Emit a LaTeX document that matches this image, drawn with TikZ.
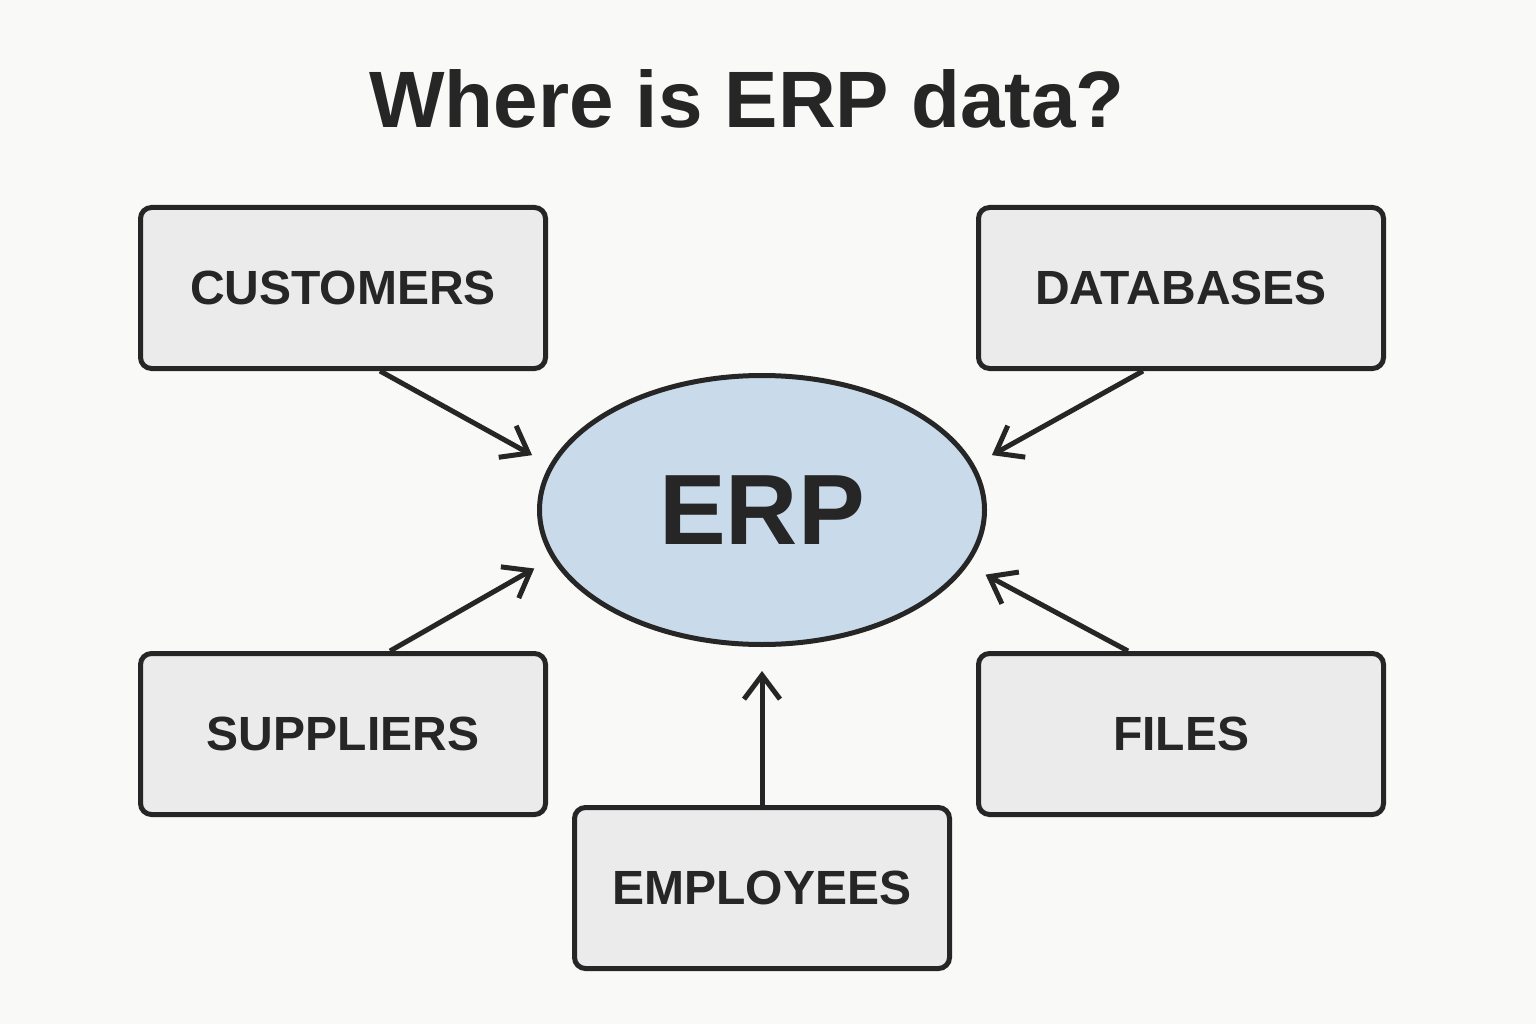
\documentclass[tikz,border=0pt]{standalone}
\usepackage{fontspec}
\setmainfont{Liberation Sans}
\usetikzlibrary{arrows.meta,shapes.geometric}
\definecolor{bg}{HTML}{F9F9F7}
\definecolor{ink}{HTML}{262626}
\definecolor{boxfill}{HTML}{EBEBEB}
\definecolor{erpfill}{HTML}{C9DBEA}

\begin{document}
\begin{tikzpicture}[x=1pt,y=-1pt,
  src/.style={draw=ink,line width=5pt,rounded corners=11pt,fill=boxfill,inner sep=0pt,
    minimum width=405pt,minimum height=161pt,text=ink,font=\fontsize{48}{48}\selectfont\bfseries},
  feed/.style={draw=ink,line width=5pt,-{Straight Barb[length=24pt,width=36pt]},shorten >=20pt}]
% canvas
\fill[bg] (0,0) rectangle (1536,1024);
% title
\node[anchor=base,text=ink,font=\fontsize{80}{80}\selectfont\bfseries] (title) at (747,128) {Where is ERP data?};
% centre
\node[ellipse,draw=ink,line width=5pt,fill=erpfill,inner sep=0pt,minimum width=445pt,minimum height=269pt,
  text=ink,font=\fontsize{100}{100}\selectfont\bfseries] (erp) at (762,510) {ERP};
% sources
\node[src] (cust) at (343,288) {CUSTOMERS};
\node[src] (db) at (1181,288) {DATABASES};
\node[src] (sup) at (343,734) {SUPPLIERS};
\node[src] (files) at (1181,734) {FILES};
\node[src,minimum width=375pt] (emp) at (762,888) {EMPLOYEES};
% arrows into ERP
\draw[feed] ([xshift=37pt]cust.south) -- (erp.168);
\draw[feed] ([xshift=-38pt]db.south) -- (erp.12);
\draw[feed] ([xshift=47pt]sup.north) -- (erp.193);
\draw[feed] ([xshift=-53pt]files.north) -- (erp.-15);
\draw[feed,shorten >=24pt] (emp.north) -- (erp.south);
\end{tikzpicture}
\end{document}
